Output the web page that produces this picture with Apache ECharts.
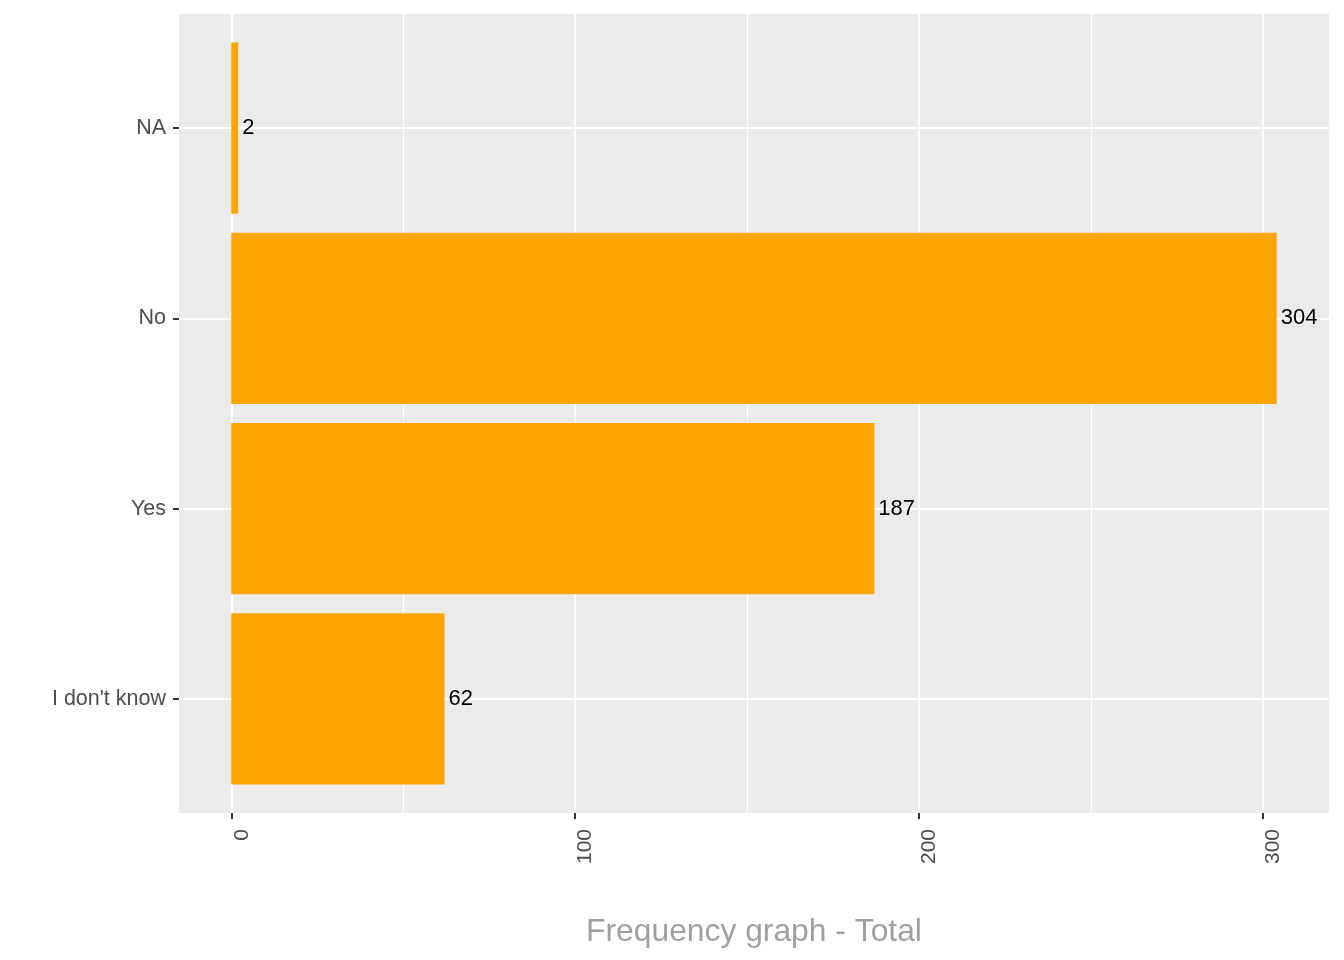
<!DOCTYPE html>
<html>
<head>
<meta charset="utf-8">
<script src="https://cdn.jsdelivr.net/npm/echarts@6/dist/echarts.min.js"></script>
<style>
  html, body { margin: 0; padding: 0; background: #fff; }
  #chart { width: 1344px; height: 960px; }
</style>
</head>
<body>
<div id="chart"></div>
<script>
// data, bottom to top like the ggplot original
const categories = ["I don't know", "Yes", "No", "NA"];
const counts = [62, 187, 304, 2];
const axisTitle = "Frequency graph - Total";

// panel limits (ggplot adds 5% on both sides of 0..max)
const xMin = -15.2;
const xMax = 319.2;
const tickStep = 100;

const FONT = "Liberation Sans, Arial, sans-serif";
const PANEL = { left: 179, top: 14, width: 1150, height: 799 };
const pxPerUnit = PANEL.width / (xMax - xMin);
const zeroX = PANEL.left - xMin * pxPerUnit;
const bandPx = PANEL.height / (categories.length + 0.2);

const chart = echarts.init(document.getElementById("chart"));

chart.setOption({
  animation: false,
  backgroundColor: "#fff",
  grid: [
    // 0: panel background
    { ...PANEL, show: true, backgroundColor: "#EBEBEB", borderWidth: 0, z: -1 },
    // 1: vertical grid lines + x ticks (0..300)
    { left: zeroX, top: PANEL.top, width: 300 * pxPerUnit, height: PANEL.height },
    // 2: bars
    { left: PANEL.left, width: PANEL.width, top: PANEL.top + 0.1 * bandPx, height: categories.length * bandPx },
    // 3: horizontal grid lines through category centres
    { left: PANEL.left, width: PANEL.width, top: PANEL.top + 0.6 * bandPx, height: (categories.length - 1) * bandPx },
  ],
  xAxis: [
    {
      gridIndex: 0, type: "value", min: xMin, max: xMax,
      axisLine: { show: false }, axisTick: { show: false }, axisLabel: { show: false }, splitLine: { show: false },
      name: axisTitle, nameLocation: "middle", nameGap: 103,
      nameTextStyle: { color: "#A0A0A0", fontSize: 31.8, fontFamily: FONT },
    },
    {
      gridIndex: 1, type: "value", min: 0, max: 300, interval: tickStep,
      axisLine: { show: false, onZero: false },
      axisTick: { show: true, length: 6, lineStyle: { color: "#333333", width: 2 } },
      axisLabel: {
        rotate: 90, margin: 16, color: "#4D4D4D", fontSize: 21, fontFamily: FONT,
        verticalAlign: "top",
      },
      splitLine: { show: true, lineStyle: { color: "#FFFFFF", width: 2 } },
      minorTick: { show: false, splitNumber: 2 },
      minorSplitLine: { show: true, lineStyle: { color: "#FFFFFF", width: 1 } },
    },
    { gridIndex: 2, type: "value", min: xMin, max: xMax, show: false },
    { gridIndex: 3, type: "value", min: xMin, max: xMax, show: false },
  ],
  yAxis: [
    { gridIndex: 0, type: "value", show: false },
    { gridIndex: 1, type: "value", show: false },
    {
      gridIndex: 2, type: "category", data: categories,
      axisLine: { show: false, onZero: false },
      axisTick: { show: true, alignWithLabel: true, length: 6, lineStyle: { color: "#333333", width: 2 } },
      axisLabel: { margin: 13, color: "#4D4D4D", fontSize: 21.5, fontFamily: FONT, padding: [3, 0, 0, 0] },
      splitLine: { show: false },
    },
    {
      gridIndex: 3, type: "category", data: categories, boundaryGap: false,
      axisLine: { show: false, onZero: false }, axisTick: { show: false }, axisLabel: { show: false },
      splitLine: { show: true, lineStyle: { color: "#FFFFFF", width: 2 } },
    },
  ],
  series: [
    {
      type: "bar",
      xAxisIndex: 2,
      yAxisIndex: 2,
      data: counts,
      barCategoryGap: "10%",
      itemStyle: { color: "#FFA500" },
      label: {
        show: true, position: "right", distance: 4,
        color: "#000000", fontSize: 22, fontFamily: FONT, padding: [4, 0, 0, 0],
      },
    },
  ],
});
</script>
</body>
</html>
